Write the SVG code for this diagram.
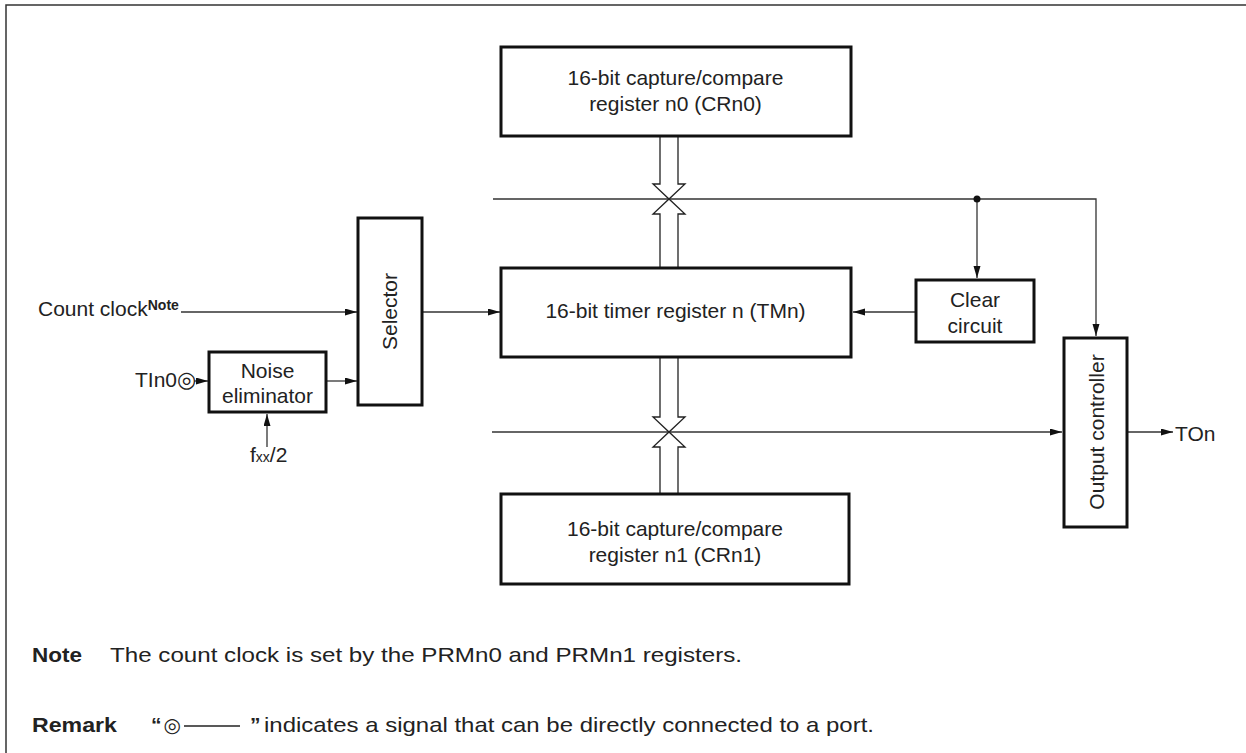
<svg xmlns="http://www.w3.org/2000/svg" width="1246" height="753" viewBox="0 0 1246 753">
<style>
text{font-family:"Liberation Sans",Arial,sans-serif;font-size:21px;fill:#222}
.box{fill:#fff;stroke:#111;stroke-width:3}
.ln{fill:none;stroke:#333;stroke-width:1.3}
.bus{fill:#fff;stroke:#222;stroke-width:1.3}
.c{text-anchor:middle}
.b{font-weight:bold}
.sym{font-family:"DejaVu Sans",sans-serif}
</style>
<defs>
<marker id="ah" markerUnits="userSpaceOnUse" markerWidth="13" markerHeight="8" refX="12" refY="3.5" orient="auto">
<path d="M0,0 L12,3.5 L0,7 z" fill="#111"/>
</marker>
</defs>
<rect x="6" y="5" width="1300" height="800" fill="none" stroke="#333" stroke-width="1.5"/>

<g id="connectors">
<path class="ln" d="M493,199 H1096 V336" marker-end="url(#ah)"/>
<path class="ln" d="M977,199 V278" marker-end="url(#ah)"/>
<circle cx="977" cy="199" r="3.5" fill="#111"/>
<path class="ln" d="M916,312 H853" marker-end="url(#ah)"/>
<path class="ln" d="M492,432 H1062" marker-end="url(#ah)"/>
<path class="ln" d="M1127,432 H1173" marker-end="url(#ah)"/>
<path class="ln" d="M181,312 H357" marker-end="url(#ah)"/>
<path class="ln" d="M326,381 H357" marker-end="url(#ah)"/>
<path class="ln" d="M422,312 H500" marker-end="url(#ah)"/>
<path class="ln" d="M194,381 H208" marker-end="url(#ah)"/>
<path class="ln" d="M267,447 V414" marker-end="url(#ah)"/>
<path class="bus" d="M660,136 V184 H653 L669,199 L685,184 H678 V136"/>
<path class="bus" d="M660,267 V214 H653 L669,199 L685,214 H678 V267"/>
<path class="bus" d="M660,357 V417 H653 L669,432 L685,417 H678 V357"/>
<path class="bus" d="M660,494 V447 H653 L669,432 L685,447 H678 V494"/>
</g>

<g id="crn0">
<rect class="box" x="501" y="47" width="350" height="89"/>
<text class="c" x="675.5" y="85">16-bit capture/compare</text>
<text class="c" x="675.5" y="111">register n0 (CRn0)</text>
</g>

<g id="tmn">
<rect class="box" x="501" y="268" width="350" height="89"/>
<text class="c" x="675.5" y="318">16-bit timer register n (TMn)</text>
</g>

<g id="crn1">
<rect class="box" x="501" y="494" width="348" height="90"/>
<text class="c" x="675" y="536">16-bit capture/compare</text>
<text class="c" x="675" y="562">register n1 (CRn1)</text>
</g>

<g id="selector">
<rect class="box" x="358" y="218" width="64" height="187"/>
<text class="c" transform="translate(397,311.5) rotate(-90)">Selector</text>
</g>

<g id="noise">
<rect class="box" x="209" y="352" width="117" height="60"/>
<text class="c" x="267.5" y="378">Noise</text>
<text class="c" x="267.5" y="403">eliminator</text>
</g>

<g id="clear">
<rect class="box" x="916" y="280" width="118" height="62"/>
<text class="c" x="975" y="307">Clear</text>
<text class="c" x="975" y="333">circuit</text>
</g>

<g id="outctl">
<rect class="box" x="1064" y="338" width="63" height="189"/>
<text class="c" transform="translate(1103.5,432) rotate(-90)">Output controller</text>
</g>

<g id="labels">
<text x="38" y="316">Count clock<tspan class="b" font-size="14" dy="-6">Note</tspan></text>
<text x="135" y="387">TIn0<tspan class="sym" font-size="22">◎</tspan></text>
<text x="250" y="462">f<tspan font-size="14">xx</tspan>/2</text>
<text x="1175" y="441">TOn</text>
</g>

<g id="notes">
<text class="b" x="32" y="662" font-size="22" textLength="50" lengthAdjust="spacingAndGlyphs">Note</text>
<text x="110" y="662" font-size="22" textLength="632" lengthAdjust="spacingAndGlyphs">The count clock is set by the PRMn0 and PRMn1 registers.</text>
<text class="b" x="32" y="732" font-size="22" textLength="85" lengthAdjust="spacingAndGlyphs">Remark</text>
<text x="151" y="732" font-size="22"><tspan class="b">“</tspan><tspan class="sym" font-size="20" dx="2">◎</tspan></text>
<line x1="184" y1="726" x2="240" y2="726" stroke="#222" stroke-width="1.3"/>
<text x="250" y="732" font-size="22"><tspan class="b">”</tspan></text>
<text x="264" y="732" font-size="22" textLength="610" lengthAdjust="spacingAndGlyphs">indicates a signal that can be directly connected to a port.</text>
</g>
</svg>
